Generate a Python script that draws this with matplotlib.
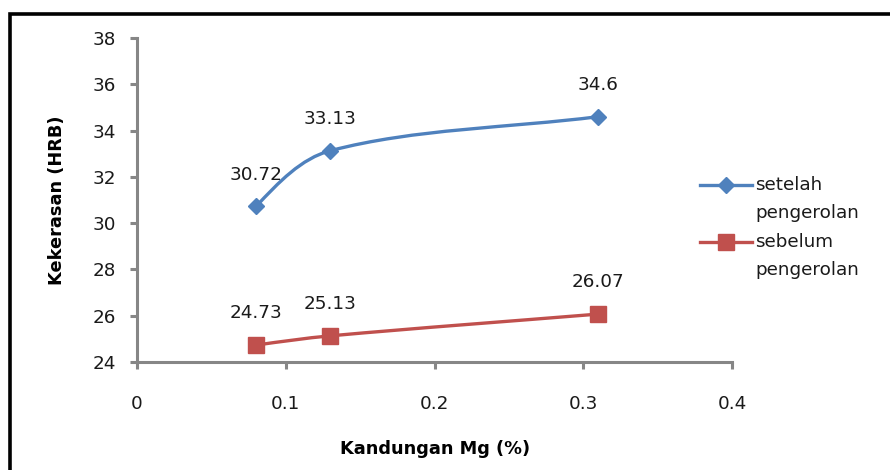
import numpy as np
import matplotlib
matplotlib.use("Agg")
import matplotlib.pyplot as plt
from matplotlib.path import Path
from matplotlib.patches import PathPatch, Rectangle
from matplotlib.lines import Line2D

plt.rcParams['font.family'] = ['DejaVu Sans']

# Magnesium content (%) and Rockwell B hardness
mg_content = [0.08, 0.13, 0.31]
hardness_after = [30.72, 33.13, 34.6]    # setelah pengerolan
hardness_before = [24.73, 25.13, 26.07]  # sebelum pengerolan

series_labels = ["setelah\npengerolan", "sebelum\npengerolan"]
x_ticks = [0, 0.1, 0.2, 0.3, 0.4]
y_ticks = [24, 26, 28, 30, 32, 34, 36, 38]

BLUE = "#4F81BD"
RED = "#C0504D"
AXIS_GRAY = "#868686"
TEXT = "#1a1a1a"
FS = 13.2

W, H = 890, 470
fig = plt.figure(figsize=(W / 100, H / 100), dpi=100)
fig.patch.set_facecolor("white")


def px(x, y):
    """Pixel position (from top-left) to figure fraction."""
    return x / W, 1 - y / H


ax = fig.add_axes([137 / W, 1 - 362 / H, 595 / W, 324 / H])
ax.set_xlim(0, 0.4)
ax.set_ylim(24, 38)


def smooth_path(xs, ys):
    """Smoothed line: cubic Bezier segments with chord-length weighted
    tangents, computed in display space so the curve looks even on screen."""
    pts = ax.transData.transform(np.column_stack([xs, ys]).astype(float))
    n = len(pts)
    d = np.linalg.norm(np.diff(pts, axis=0), axis=1)
    verts = [pts[0]]
    codes = [Path.MOVETO]
    for i in range(n - 1):
        p0, p1 = pts[i], pts[i + 1]
        c1 = c2 = None
        if i > 0:
            c1 = p0 + (pts[i + 1] - pts[i - 1]) * d[i] / (d[i - 1] + d[i]) / 3
        if i + 2 < n:
            c2 = p1 - (pts[i + 2] - pts[i]) * d[i] / (d[i] + d[i + 1]) / 3
        if c1 is None and c2 is None:
            c1 = p0 + (p1 - p0) / 3
            c2 = p1 - (p1 - p0) / 3
        elif c1 is None:
            c1 = p0 + (c2 - p0) / 2
        elif c2 is None:
            c2 = p1 - (p1 - p0) / 3
        verts += [c1, c2, p1]
        codes += [Path.CURVE4] * 3
    return Path(ax.transData.inverted().transform(np.array(verts)), codes)


for ys, color, marker, ms in [(hardness_after, BLUE, "D", 7.8),
                              (hardness_before, RED, "s", 12)]:
    ax.add_patch(PathPatch(smooth_path(mg_content, ys), fill=False,
                           ec=color, lw=2.4, capstyle="round", zorder=2))
    ax.plot(mg_content, ys, ls="none", marker=marker, ms=ms,
            mfc=color, mec=color, zorder=3)
    for x, y in zip(mg_content, ys):
        ax.annotate(f"{y:g}", (x, y), xytext=(0, 23), textcoords="offset points",
                    ha="center", va="center", fontsize=FS, color=TEXT)

# Axes styling
for side in ("top", "right"):
    ax.spines[side].set_visible(False)
for side in ("left", "bottom"):
    ax.spines[side].set_color(AXIS_GRAY)
    ax.spines[side].set_linewidth(2.2)
ax.set_xticks(x_ticks)
ax.set_xticklabels([f"{v:g}" for v in x_ticks])
ax.set_yticks(y_ticks)
ax.tick_params(axis="both", direction="out", length=5, width=2.2,
               color=AXIS_GRAY, labelsize=FS, labelcolor=TEXT)
ax.tick_params(axis="x", pad=19)
ax.tick_params(axis="y", pad=10)

fig.text(*px(435, 449), "Kandungan Mg (%)", ha="center", va="center",
         fontsize=12.8, fontweight="bold")
fig.text(*px(57, 200), "Kekerasan (HRB)", ha="center", va="center",
         rotation=90, fontsize=12.8, fontweight="bold")

# Legend entries
for (y_line, label), color, marker, ms in [((185, series_labels[0]), BLUE, "D", 7.8),
                                          ((242, series_labels[1]), RED, "s", 12)]:
    x0, y0 = px(700, y_line)
    x1, _ = px(752, y_line)
    fig.add_artist(Line2D([x0, x1], [y0, y0], transform=fig.transFigure,
                          color=color, lw=2.4))
    fig.add_artist(Line2D([(x0 + x1) / 2], [y0], transform=fig.transFigure,
                          ls="none", marker=marker, ms=ms, mfc=color, mec=color))
    first, second = label.split("\n")
    fig.text(*px(755, y_line), first, ha="left", va="center", fontsize=FS,
             color=TEXT)
    fig.text(*px(755, y_line + 28), second, ha="left", va="center", fontsize=FS,
             color=TEXT)

# Outer frame (runs off the right and bottom edges)
fig.add_artist(Rectangle(px(10, 520), 1.2, (520 - 14.5) / H,
                         transform=fig.transFigure, fill=False,
                         ec="black", lw=2.6))

fig.savefig("out.png", dpi=100, facecolor="white")
